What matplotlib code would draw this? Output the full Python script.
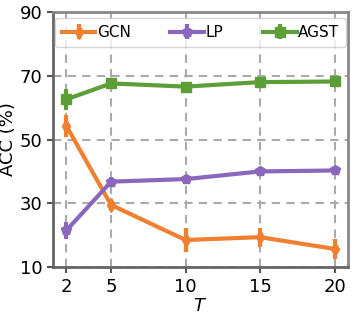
import matplotlib.pyplot as plt
import numpy as np

# values
T = [2, 5, 10, 15, 20]
gcn = [54.3, 29.5, 18.5, 19.4, 15.7]
gcn_err = [3.5, 2.0, 3.7, 3.0, 3.0]
lp = [21.5, 36.8, 37.6, 40.0, 40.3]
lp_err = [2.8, 1.5, 0.8, 0.8, 0.8]
agst = [62.6, 67.6, 66.6, 68.0, 68.2]
agst_err = [3.4, 0.8, 0.6, 0.6, 0.6]

fig = plt.figure(figsize=(3.53, 3.15), dpi=100)
ax = fig.add_axes([0.150, 0.152, 0.836, 0.810])

styles = [
    ('GCN', gcn, gcn_err, '#f0802f', 'd'),
    ('LP', lp, lp_err, '#8a67bd', 'p'),
    ('AGST', agst, agst_err, '#5c9e37', 's'),
]
for name, vals, err, col, mk in styles:
    ax.errorbar(T, vals, yerr=err, color=col, marker=mk, markersize=7,
                linewidth=3, elinewidth=3, capsize=0, label=name)

ax.set_xlim(1.1, 20.9)
ax.set_ylim(10, 90)
ax.set_xticks(T)
ax.set_yticks([10, 30, 50, 70, 90])
ax.tick_params(labelsize=13, length=4, width=1.5, color='#555555')
ax.set_xlabel('$T$', fontsize=13, labelpad=1)
ax.set_ylabel('ACC (%)', fontsize=13, labelpad=2)
ax.grid(True, linestyle='--', color='#aaaaaa', linewidth=1.5, dashes=(4, 3))
for s in ['left', 'bottom']:
    ax.spines[s].set_color('#666666')
    ax.spines[s].set_linewidth(2)
for s in ['top', 'right']:
    ax.spines[s].set_color('#888888')
    ax.spines[s].set_linewidth(2)

ax.legend(loc='upper center', ncol=3, fontsize=11, frameon=True,
          handlelength=2.2, handletextpad=0.1, columnspacing=2.6,
          borderaxespad=0.4, borderpad=0.45, bbox_to_anchor=(0.5, 1.0))

fig.savefig('out.png', dpi=100)
